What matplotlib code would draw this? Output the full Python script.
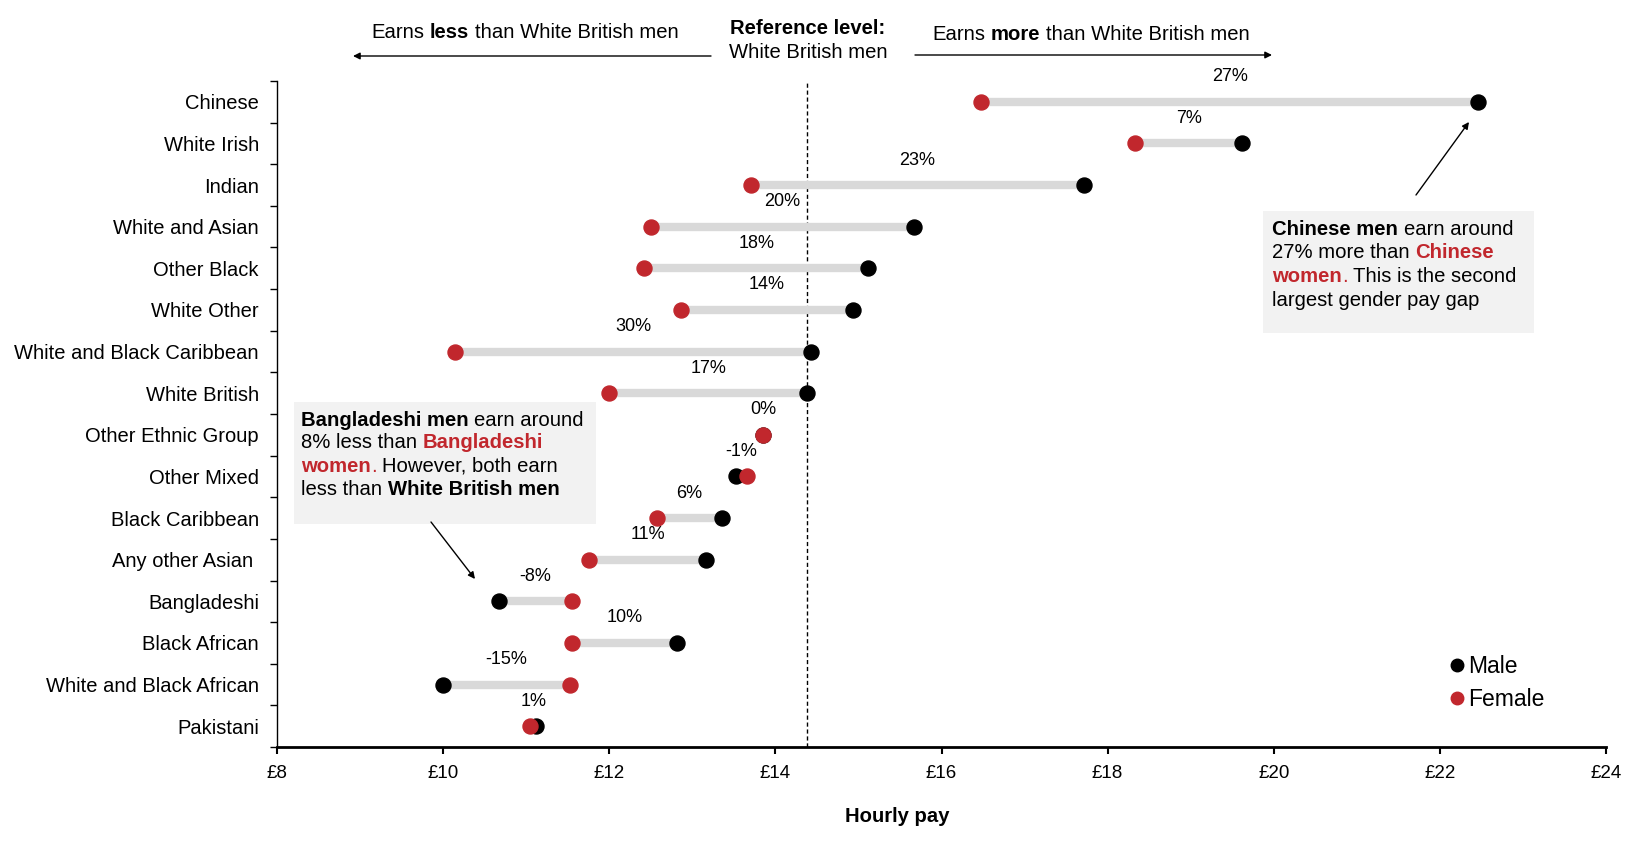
import matplotlib
matplotlib.use('Agg')
import matplotlib.pyplot as plt
from matplotlib.lines import Line2D
from matplotlib.patches import Rectangle

plt.rcParams['font.family'] = ['Liberation Sans', 'DejaVu Sans']

# data
groups = ['Chinese', 'White Irish', 'Indian', 'White and Asian', 'Other Black',
          'White Other', 'White and Black Caribbean', 'White British',
          'Other Ethnic Group', 'Other Mixed', 'Black Caribbean', 'Any other Asian ',
          'Bangladeshi', 'Black African', 'White and Black African', 'Pakistani']
male = [22.46, 19.62, 17.71, 15.67, 15.12, 14.93, 14.43, 14.38,
        13.85, 13.52, 13.36, 13.16, 10.67, 12.82, 10.00, 11.12]
female = [16.48, 18.33, 13.71, 12.50, 12.42, 12.86, 10.14, 12.00,
          13.85, 13.66, 12.57, 11.76, 11.55, 11.55, 11.53, 11.05]
gap_labels = ['27%', '7%', '23%', '20%', '18%', '14%', '30%', '17%',
              '0%', '-1%', '6%', '11%', '-8%', '10%', '-15%', '1%']
ref_level = 14.38
xticks = [8, 10, 12, 14, 16, 18, 20, 22, 24]

RED = '#c1272d'
GREY = '#d9d9d9'
W, H = 1627, 850

fig = plt.figure(figsize=(W / 100, H / 100), dpi=100)
ax = fig.add_axes([277 / W, 1 - 747 / H, (1606 - 277) / W, (747 - 81) / H])
ax.set_facecolor('none')

ypos = list(range(len(groups)))
for i in ypos:
    lo, hi = min(male[i], female[i]), max(male[i], female[i])
    ax.plot([lo, hi], [i, i], color=GREY, lw=6, solid_capstyle='butt', zorder=1)
    ax.text((male[i] + female[i]) / 2, i - 0.6, gap_labels[i], ha='center', va='center',
            fontsize=13)
ax.plot(male, ypos, 'o', color='black', ms=10.8, zorder=3, ls='none')
ax.plot(female, ypos, 'o', color=RED, ms=10.8, zorder=4, ls='none')

ax.axvline(ref_level, color='black', lw=1, ls=(0, (3, 2)), zorder=0)

ax.set_xlim(8, 24)
ax.set_ylim(len(groups) - 0.5, -0.5)
ax.set_xticks(xticks)
ax.set_xticklabels(['£%d' % v for v in xticks])
ax.set_yticks(ypos)
ax.set_yticklabels(groups)
ax.set_yticks([k + 0.5 for k in range(-1, len(groups))], minor=True)
ax.tick_params(axis='y', which='major', length=0, pad=13, labelsize=14.5)
ax.tick_params(axis='y', which='minor', length=5, width=1, direction='out')
ax.tick_params(axis='x', length=5, width=1.5, pad=8, labelsize=13.5)
for s in ['top', 'right']:
    ax.spines[s].set_visible(False)
ax.spines['left'].set_linewidth(1)
ax.spines['bottom'].set_linewidth(2)

fig.text(897 / W, 1 - 817 / H, 'Hourly pay', ha='center', va='center',
         fontsize=14.6, fontweight='bold')

SPACE = 0.278  # space width, in em


def rich_line(x_px, y_px, parts, fs):
    prev = None
    for s, bold, col in parts:
        lead = s.startswith(' ')
        s = s.strip()
        kw = dict(fontsize=fs, fontweight='bold' if bold else 'normal', color=col)
        if prev is None:
            prev = fig.text(x_px / W, 1 - y_px / H, s, ha='left', va='center', **kw)
        else:
            gap = SPACE * fs if lead else 0
            prev = ax.annotate(s, xy=(1, 0), xycoords=prev, xytext=(gap, 0),
                               textcoords='offset points', ha='left', va='bottom',
                               annotation_clip=False, **kw)


def arrow(x0, y0, x1, y1):
    ax.annotate('', xy=(x1, H - y1), xytext=(x0, H - y0), xycoords='figure pixels',
                textcoords='figure pixels', annotation_clip=False,
                arrowprops=dict(arrowstyle='-|>', color='black', lw=1,
                                mutation_scale=10, shrinkA=0, shrinkB=0))


# header
fs_head = 14.6
rich_line(371, 33, [('Earns', False, 'black'), (' less', True, 'black'),
                    (' than White British men', False, 'black')], fs_head)
rich_line(932, 35, [('Earns', False, 'black'), (' more', True, 'black'),
                    (' than White British men', False, 'black')], fs_head)
fig.text(808 / W, 1 - 28 / H, 'Reference level:', ha='center', va='center',
         fontsize=fs_head, fontweight='bold')
fig.text(808 / W, 1 - 52 / H, 'White British men', ha='center', va='center', fontsize=fs_head)
arrow(711, 56, 353, 56)
arrow(915, 55, 1272, 55)

# annotation boxes
fig.add_artist(Rectangle((1263 / W, 1 - 333 / H), (1534 - 1263) / W, (333 - 211) / H,
                         transform=fig.transFigure, facecolor='#f2f2f2', edgecolor='none',
                         zorder=-1))
fig.add_artist(Rectangle((294 / W, 1 - 524 / H), (596 - 294) / W, (524 - 402) / H,
                         transform=fig.transFigure, facecolor='#f2f2f2', edgecolor='none',
                         zorder=-1))

fs_note = 14.6
rich_line(1272, 230, [('Chinese men', True, 'black'), (' earn around', False, 'black')], fs_note)
rich_line(1272, 253, [('27% more than', False, 'black'), (' Chinese', True, RED)], fs_note)
rich_line(1272, 277, [('women', True, RED), ('.', False, RED),
                      (' This is the second', False, 'black')], fs_note)
rich_line(1272, 301, [('largest gender pay gap', False, 'black')], fs_note)
arrow(1416, 195, 1469, 122)

rich_line(301, 420, [('Bangladeshi men', True, 'black'), (' earn around', False, 'black')], fs_note)
rich_line(301, 443, [('8% less than', False, 'black'), (' Bangladeshi', True, RED)], fs_note)
rich_line(301, 466, [('women', True, RED), ('.', False, RED),
                     (' However, both earn', False, 'black')], fs_note)
rich_line(301, 490, [('less than', False, 'black'), (' White British men', True, 'black')], fs_note)
arrow(431, 522, 475, 579)

# legend
handles = [Line2D([], [], marker='o', ls='none', color='black', ms=9),
           Line2D([], [], marker='o', ls='none', color=RED, ms=9)]
fig.legend(handles, ['Male', 'Female'], loc='upper left', bbox_to_anchor=(1448 / W, 1 - 655 / H),
           frameon=False, fontsize=16.5, handlelength=0.8, handletextpad=0.1,
           labelspacing=0.42, borderpad=0, borderaxespad=0)

fig.savefig('out.png', dpi=100)
